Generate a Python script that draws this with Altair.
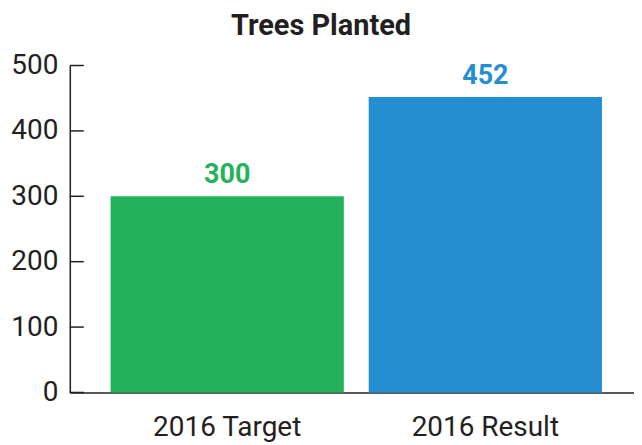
import altair as alt
import pandas as pd

categories = ["2016 Target", "2016 Result"]
values = [300, 452]
colors = ["#23b25b", "#258ed0"]
tick_values = [0, 100, 200, 300, 400, 500]

FONT = "Roboto, sans-serif"
DARK = "#231f20"

df = pd.DataFrame({"category": categories, "value": values})
ticks_df = pd.DataFrame({"t": tick_values})

xscale = alt.Scale(domain=categories, paddingInner=0.0965, paddingOuter=0.141, align=0.56)
yscale = alt.Scale(domain=[0, 500], nice=False)
cscale = alt.Scale(domain=categories, range=colors)

bars = alt.Chart(df).mark_bar().encode(
    x=alt.X("category:N", scale=xscale, sort=categories,
            axis=alt.Axis(title=None, labelAngle=0, ticks=False, domainColor=DARK,
                          domainWidth=1.5, labelFont=FONT, labelFontSize=28,
                          labelColor=DARK, labelPadding=21)),
    y=alt.Y("value:Q", scale=yscale,
            axis=alt.Axis(title=None, values=tick_values, ticks=False, grid=False,
                          domainColor=DARK, domainWidth=1.5, labelFont=FONT,
                          labelFontSize=28, labelColor=DARK, labelPadding=12)),
    color=alt.Color("category:N", scale=cscale, legend=None),
)

labels = alt.Chart(df).mark_text(
    font=FONT, fontSize=27, fontWeight="bold", baseline="alphabetic", dy=-13
).encode(
    x=alt.X("category:N", scale=xscale, sort=categories),
    y=alt.Y("value:Q", scale=yscale),
    text=alt.Text("value:Q"),
    color=alt.Color("category:N", scale=cscale, legend=None),
)

tick_rules = alt.Chart(ticks_df).mark_rule(color=DARK, strokeWidth=1.5).encode(
    x=alt.value(0), x2=alt.value(14), y=alt.Y("t:Q", scale=yscale)
)

chart = alt.layer(bars, labels, tick_rules).properties(
    width=566,
    height=328,
    background="white",
    title=alt.TitleParams("Trees Planted", font=FONT, fontSize=29, fontWeight="bold",
                          color=DARK, anchor="middle", dx=-31, offset=11),
    autosize=alt.AutoSizeParams(type="none"),
    padding={"left": 62, "top": 57, "right": 0, "bottom": 52},
).configure_view(stroke=None).configure_axis(grid=False)

chart.save("out.html", embed_options={"renderer": "svg", "actions": False})
